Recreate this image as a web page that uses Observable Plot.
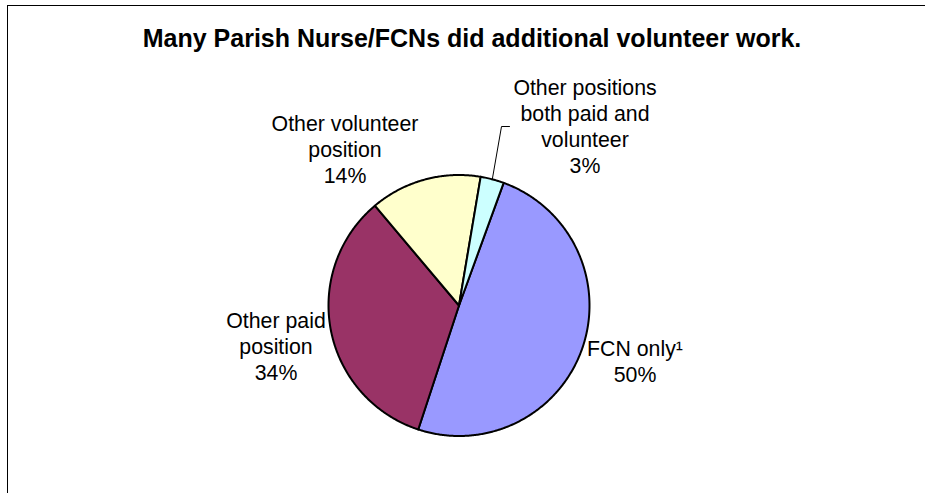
<!DOCTYPE html>
<html><head><meta charset="utf-8">
<script src="https://cdn.jsdelivr.net/npm/d3@7"></script>
<script src="https://cdn.jsdelivr.net/npm/@observablehq/plot@0.6"></script>
<style>
html,body{margin:0;padding:0;background:#fff;overflow:hidden;width:925px;height:493px}
#frame{position:absolute;left:7px;top:5px;width:960px;height:520px;border-left:1px solid #000;border-top:1px solid #000}
#title{position:absolute;left:0;top:23px;width:944px;text-align:center;font:bold 25px "Liberation Sans",Arial,sans-serif;line-height:30px;color:#000;white-space:nowrap}
#chart{position:absolute;left:0;top:0}
</style></head><body>
<div id="frame"></div>
<div id="title">Many Parish Nurse/FCNs did additional volunteer work.</div>
<div id="chart"></div>
<script>
// ---- data ----
const categories = ["FCN only", "Other paid position", "Other volunteer position", "Other positions both paid and volunteer"];
const labelNames = ["FCN only¹", "Other paid\nposition", "Other volunteer\nposition", "Other positions\nboth paid and\nvolunteer"];
const shares = [49.5, 33.8, 13.8, 2.9];
const colors = ["#9999FF", "#993366", "#FFFFCC", "#CCFFFF"];

// ---- layout (pixels) ----
const W = 925, H = 493;
const cx = 458.5, cy = 305, R = 130.5;
const startDeg = 20;
// label block centres, offsets from pie centre in px (dx right, dy down)
const labelOffsets = [[176, 55], [-183, 40], [-114, -157], [126, -180]];
// leader for the small slice: corner and end point offsets in px
const leaderPts = [[42.5, -179], [50.5, -179]];

// ---- build geometry from data ----
const total = d3.sum(shares);
const rad = Math.PI / 180;
const toX = a => Math.sin(a * rad), toY = a => Math.cos(a * rad);
const wedgePts = [];
const mids = [];
let a0 = startDeg;
shares.forEach((v, i) => {
  const span = v / total * 360;
  const a1 = a0 + span;
  mids.push(a0 + span / 2);
  wedgePts.push({key: categories[i], x: 0, y: 0});
  const n = Math.max(2, Math.ceil(span / 0.5));
  for (let k = 0; k <= n; k++) {
    const a = a0 + span * k / n;
    wedgePts.push({key: categories[i], x: toX(a), y: toY(a)});
  }
  wedgePts.push({key: categories[i], x: 0, y: 0});
  a0 = a1;
});

const labels = shares.map((v, i) => ({
  key: categories[i],
  text: labelNames[i] + "\n" + Math.round(v) + "%",
  x: labelOffsets[i][0] / R,
  y: -labelOffsets[i][1] / R
}));

const leader = [
  {x: toX(mids[3]), y: toY(mids[3])},
  ...leaderPts.map(([dx, dy]) => ({x: dx / R, y: -dy / R}))
];

const chart = Plot.plot({
  width: W, height: H,
  marginTop: 0, marginRight: 0, marginBottom: 0, marginLeft: 0,
  x: {domain: [-cx / R, (W - cx) / R], axis: null},
  y: {domain: [-(H - cy) / R, cy / R], axis: null},
  color: {domain: categories, range: colors},
  style: {background: "transparent"},
  marks: [
    Plot.line(wedgePts, {x: "x", y: "y", z: "key", fill: "key", stroke: "#000", strokeWidth: 2, strokeLinejoin: "round", curve: "linear"}),
    Plot.line(leader, {x: "x", y: "y", stroke: "#000", strokeWidth: 1}),
    Plot.text(labels, {x: "x", y: "y", text: "text", fontSize: 21.3, lineHeight: 1.22, fill: "#000", fontFamily: "Liberation Sans, Arial, sans-serif", textAnchor: "middle", lineAnchor: "middle"})
  ]
});
document.getElementById("chart").appendChild(chart);
</script>
</body></html>
